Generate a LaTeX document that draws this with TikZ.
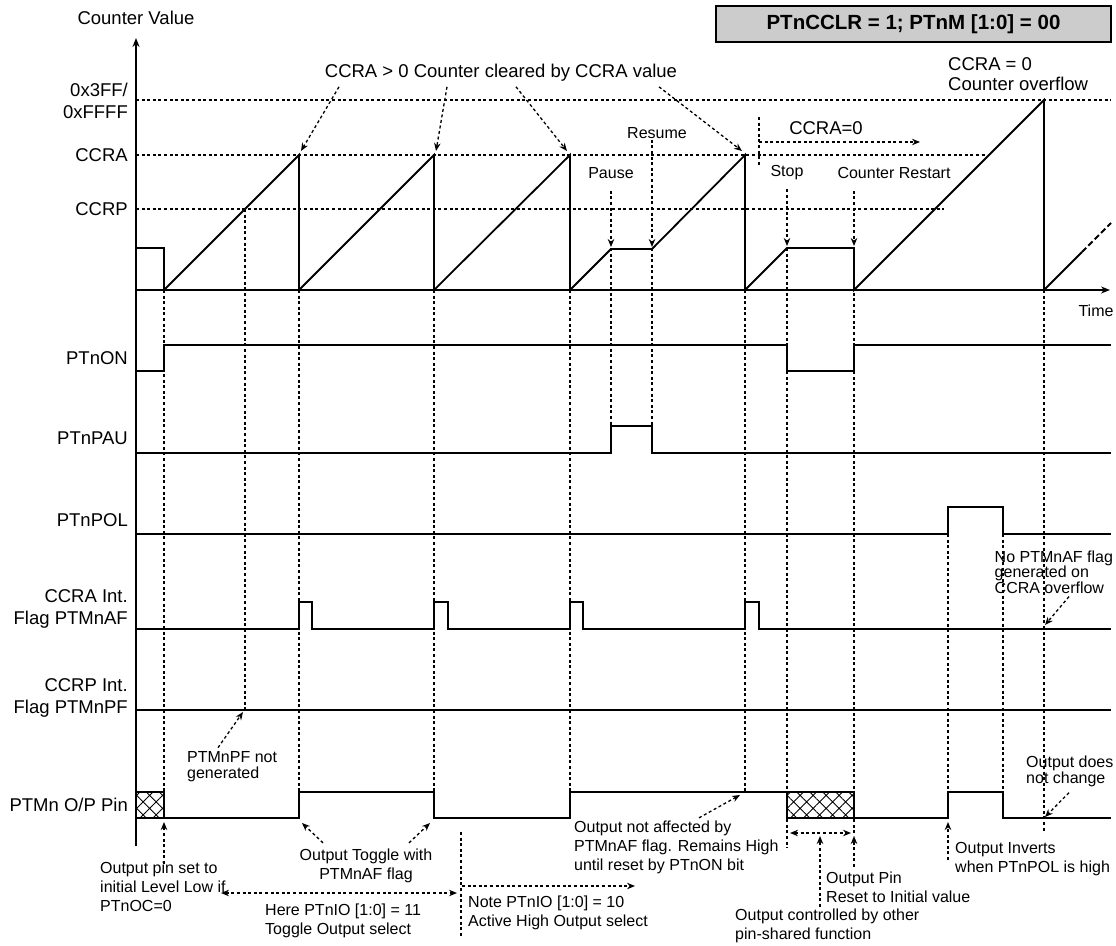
\documentclass[tikz,border=0pt]{standalone}
\usepackage{fontspec}
\setmainfont{Liberation Sans}
\usetikzlibrary{arrows.meta, patterns.meta}

\begin{document}
\begin{tikzpicture}[x=1pt, y=-1pt,
    sig/.style={line width=1.8pt},
    guide/.style={line width=1.3pt, dash pattern=on 3pt off 2.6pt},
    arr/.style={guide, -{Stealth[length=8pt,width=6.5pt]}},
    darr/.style={guide, {Stealth[length=8pt,width=6.5pt]}-{Stealth[length=8pt,width=6.5pt]}},
    lab/.style={font=\fontsize{18.5}{22}\selectfont, inner sep=0pt},
    rlab/.style={lab, anchor=east, align=right},
    ann/.style={font=\fontsize{16}{19}\selectfont, inner sep=0pt, align=left},
    xhatch/.style={draw, line width=1.8pt, pattern={Hatch[angle=45,distance=9.2pt,line width=0.9pt]}}]

    \useasboundingbox (0,0) rectangle (1116,945);

    \node[draw, line width=1.5pt, fill=gray!40, minimum width=395pt, minimum height=36pt,
          font=\fontsize{20.5}{24}\selectfont\bfseries] (mode) at (913.5,24) {PTnCCLR = 1; PTnM [1:0] = 00};

    % axes and level lines
    \node[lab] (cval) at (136,18) {Counter Value};
    \node[ann] (time) at (1096,311) {Time};
    \draw[sig, -{Stealth[length=9pt,width=7pt]}] (136,846) -- (136,38);
    \draw[sig, -{Stealth[length=9pt,width=7pt]}] (136,290) -- (1110,290);
    \draw[guide] (136,100) -- (1111,100);
    \draw[guide] (136,155) -- (986,155);
    \draw[guide] (136,209) -- (944,209);

    \node[rlab] (lmax) at (128,101) {0x3FF/\\0xFFFF};
    \node[rlab] (lccra) at (128,155) {CCRA};
    \node[rlab] (lccrp) at (128,209) {CCRP};
    \node[rlab] (lon) at (128,358) {PTnON};
    \node[rlab] (lpau) at (128,438) {PTnPAU};
    \node[rlab] (lpol) at (128,520) {PTnPOL};
    \node[rlab] (laf) at (128,609) {CCRA Int.\\Flag PTMnAF};
    \node[rlab] (lpf) at (128,698) {CCRP Int.\\Flag PTMnPF};
    \node[rlab] (lpin) at (128,805) {PTMn O/P Pin};

    % time markers
    \draw[guide] (164,290) -- (164,792);
    \draw[guide] (245,209) -- (245,710);
    \draw[guide] (299,290) -- (299,792);
    \draw[guide] (434,290) -- (434,792);
    \draw[guide] (570,290) -- (570,792);
    \draw[guide] (611,248) -- (611,426);
    \draw[guide] (652,248) -- (652,426);
    \draw[guide] (745,290) -- (745,792);
    \draw[guide] (787,248) -- (787,848);
    \draw[guide] (854,248) -- (854,836);
    \draw[guide] (948,534) -- (948,792);
    \draw[guide] (1003,534) -- (1003,792);
    \draw[guide] (1044,290) -- (1044,833);

    % counter
    \draw[sig, line join=miter] (136,248) -- (164,248) -- (164,290) -- (299,155) -- (299,290) -- (434,155) -- (434,290)
        -- (570,155) -- (570,290) -- (611,249) -- (652,249) -- (745,155) -- (745,290) -- (787,248) -- (854,248)
        -- (854,290) -- (1044,100) -- (1044,290) -- (1082,252);
    \draw[sig, dash pattern=on 6pt off 3pt] (1082,252) -- (1111,223);

    % signals
    \draw[sig] (136,371) -- (164,371) -- (164,345) -- (787,345) -- (787,371) -- (854,371) -- (854,345) -- (1111,345);
    \draw[sig] (136,453) -- (611,453) -- (611,426) -- (652,426) -- (652,453) -- (1111,453);
    \draw[sig] (136,534) -- (948,534) -- (948,507) -- (1003,507) -- (1003,534) -- (1111,534);
    \draw[sig] (136,629) -- (299,629) -- (299,602) -- (312,602) -- (312,629) -- (434,629) -- (434,602) -- (448,602)
        -- (448,629) -- (570,629) -- (570,602) -- (583,602) -- (583,629) -- (745,629) -- (745,602) -- (759,602)
        -- (759,629) -- (1111,629);
    \draw[sig] (136,710) -- (1111,710);
    \draw[xhatch] (136,792) rectangle (164,818);
    \draw[xhatch] (787,792) rectangle (854,818);
    \draw[sig] (164,818) -- (299,818) -- (299,792) -- (434,792) -- (434,818) -- (570,818) -- (570,792) -- (787,792);
    \draw[sig] (854,818) -- (948,818) -- (948,792) -- (1003,792) -- (1003,818) -- (1111,818);

    % counter notes
    \coordinate (pk1) at (301,151);
    \coordinate (pk2) at (436,151);
    \coordinate (pk3) at (567,151);
    \coordinate (pk4) at (742,151);
    \node[lab] (cleared) at (501,73) {CCRA > 0 Counter cleared by CCRA value};
    \draw[arr] ([xshift=-162pt,yshift=-5pt]cleared.south) -- (pk1);
    \draw[arr] ([xshift=-54pt,yshift=-5pt]cleared.south) -- (pk2);
    \draw[arr] ([xshift=15pt,yshift=-5pt]cleared.south) -- (pk3);
    \draw[arr] ([xshift=158pt,yshift=-5pt]cleared.south) -- (pk4);

    \node[lab, anchor=west, align=left, font=\fontsize{18.5}{20}\selectfont] (ovf) at (948,74) {CCRA = 0\\Counter overflow};
    \node[lab] (czero) at (826,128) {CCRA=0};
    \coordinate (czero-end) at (920,142);
    \draw[guide] (759,117) -- (759,167);
    \draw[arr] (759,142) -- (czero-end);

    \node[ann] (pause) at (611,173) {Pause};
    \node[ann] (resume) at (657,133) {Resume};
    \node[ann] (stop) at (787,173) {Stop};
    \node[ann] (restart) at (894,173) {Counter Restart};
    \draw[arr] ([yshift=-12pt]pause.south) -- (611,247);
    \draw[arr] ([xshift=-5pt,yshift=-1pt]resume.south) -- (652,247);
    \draw[arr] ([yshift=-9pt]stop.south) -- (787,246);
    \draw[arr] ([xshift=-40pt,yshift=-12pt]restart.south) -- (854,246);

    % flag notes
    \node[ann, anchor=west, font=\fontsize{16}{15.5}\selectfont] (noaf) at (994.5,572) {No PTMnAF flag\\generated on\\CCRA overflow};
    \draw[arr] ([xshift=74.5pt,yshift=-3pt]noaf.south west) -- (1045,625);
    \node[ann, anchor=west, font=\fontsize{16}{16}\selectfont] (pfnot) at (187,767) {PTMnPF not\\generated};
    \draw[arr] ([xshift=31pt,yshift=4pt]pfnot.north west) -- (243,712);

    % output notes
    \node[ann, anchor=west] (pinset) at (100,887) {Output pin set to\\initial Level Low if\\PTnOC=0};
    \draw[arr] ([xshift=64pt,yshift=-2pt]pinset.north west) -- (164,822);
    \node[ann, align=center] (toggle) at (366,866) {Output Toggle with\\PTMnAF flag};
    \draw[arr] ([xshift=-43pt,yshift=6pt]toggle.north) -- (302,823);
    \draw[arr] ([xshift=43pt,yshift=6pt]toggle.north) -- (430,823);

    \coordinate (tgl-l) at (221,893);
    \coordinate (tgl-r) at (457,893);
    \draw[darr] (tgl-l) -- (tgl-r);
    \node[ann, anchor=west] (here) at (265,921) {Here PTnIO [1:0] = 11\\Toggle Output select};
    \draw[guide] (461,832) -- (461,937);
    \draw[arr] (462,886) -- (635,886);
    \node[ann, anchor=west] (note) at (468,913) {Note PTnIO [1:0] = 10\\Active High Output select};

    \node[ann, anchor=west] (affect) at (574,847) {Output not affected by\\PTMnAF flag. Remains High\\until reset by PTnON bit};
    \draw[arr] ([xshift=125pt,yshift=2.5pt]affect.north west) -- (740,795);

    \coordinate (hz-l) at (790,833);
    \coordinate (hz-r) at (851,833);
    \draw[darr] (hz-l) -- (hz-r);
    \node[ann, anchor=west] (shared) at (735,926) {Output controlled by other\\pin-shared function};
    \draw[arr] (820,907) -- (820,836);
    \node[ann, anchor=west] (reset) at (826,887) {Output Pin\\Reset to Initial value};
    \draw[arr] (854,867) -- (854,836);

    \node[ann, anchor=west] (invert) at (955,859) {Output Inverts\\when PTnPOL is high};
    \draw[arr] (948,860) -- (948,822);
    \node[ann, anchor=west, font=\fontsize{16}{16}\selectfont] (nochg) at (1026,771) {Output does\\not change};
    \draw[arr] ([xshift=43pt,yshift=-6pt]nochg.south west) -- (1045,817);
\end{tikzpicture}
\end{document}
